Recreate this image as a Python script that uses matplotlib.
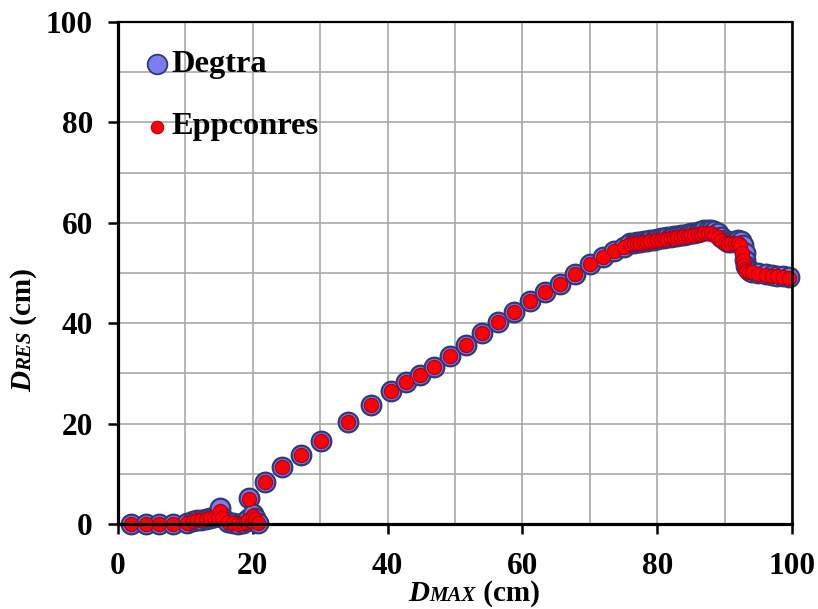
import matplotlib
matplotlib.use("Agg")
import matplotlib.pyplot as plt
from matplotlib.ticker import MultipleLocator

# ---------------- data ----------------
degtra_x = [2.0, 4.1, 6.1, 8.2, 10.2, 11.1, 11.7, 12.3, 13.0, 13.7, 14.3, 14.8, 15.2, 15.5,
            16.3, 17.0, 17.8, 18.5, 19.0, 19.3, 19.5, 19.9, 20.1, 20.4, 20.8, 21.8, 24.3,
            27.1, 30.1, 34.1, 37.5, 40.5, 42.7, 44.8, 46.9, 49.3, 51.6, 54.0, 56.4, 58.8,
            61.1, 63.4, 65.6, 67.8, 70.0, 72.0, 73.6, 75.0,
            76.0, 76.5, 77.0, 77.5, 78.0, 78.5, 79.0, 79.5, 80.0, 80.5, 81.0, 81.5, 82.0,
            82.5, 83.0, 83.5, 84.0, 84.5, 85.0, 85.5, 86.0, 86.5, 87.0, 87.5, 88.0, 88.5,
            89.0, 89.5, 90.0, 90.5, 91.0, 91.5, 92.0, 92.5, 92.8, 93.0, 93.1, 93.2, 93.4,
            93.7, 94.1, 95.0, 96.2, 97.0, 97.8, 98.6, 99.5]
degtra_y = [0.0, 0.0, 0.0, 0.0, 0.2, 0.5, 0.7, 0.8, 1.0, 1.2, 1.4, 1.5, 3.1, 1.4,
            0.3, 0.2, 0.0, 0.2, 0.5, 1.0, 5.2, 0.8, 2.0, 1.2, 0.1, 8.4, 11.3,
            13.8, 16.5, 20.3, 23.7, 26.5, 28.3, 29.7, 31.3, 33.5, 35.7, 38.0, 40.2, 42.2,
            44.4, 46.2, 47.8, 49.8, 51.8, 53.2, 54.4, 55.2,
            55.9, 56.0, 56.1, 56.1, 56.3, 56.4, 56.5, 56.6, 56.8, 56.9, 57.0, 57.1, 57.2,
            57.3, 57.4, 57.5, 57.6, 57.7, 57.9, 58.0, 58.1, 58.3, 58.5, 58.6, 58.6, 58.4,
            58.0, 57.2, 56.5, 56.1, 56.2, 56.4, 56.5, 56.4, 55.5, 54.0, 52.5, 51.3, 50.7,
            50.4, 50.2, 50.0, 49.8, 49.6, 49.5, 49.4, 49.2]

epp_x = [2.0, 4.1, 6.1, 8.2, 10.2, 11.1, 11.7, 12.3, 13.0, 13.7, 14.3, 14.8, 15.2, 15.5,
         16.3, 17.0, 17.8, 18.5, 19.0, 19.3, 19.5, 19.9, 20.1, 20.4, 20.8, 21.8, 24.3,
         27.1, 30.1, 34.1, 37.5, 40.5, 42.7, 44.8, 46.9, 49.3, 51.6, 54.0, 56.4, 58.8,
         61.1, 63.4, 65.6, 67.8, 70.0, 72.0, 73.6, 75.0,
         76.0, 76.5, 77.0, 77.5, 78.0, 78.5, 79.0, 79.5, 80.0, 80.5, 81.0, 81.5, 82.0,
         82.5, 83.0, 83.5, 84.0, 84.5, 85.0, 85.5, 86.0, 86.5, 87.0, 87.5, 88.0, 88.5,
         89.0, 89.5, 90.0, 90.5, 91.0, 91.5, 92.0, 92.3, 92.6, 92.8, 92.9, 93.0, 93.2,
         93.6, 94.1, 95.0, 96.2, 97.0, 97.8, 98.6, 99.5]
epp_y = [0.0, 0.0, 0.0, 0.0, 0.2, 0.5, 0.7, 0.8, 1.0, 1.2, 1.4, 1.3, 2.6, 1.2,
         0.3, 0.2, 0.0, 0.2, 0.4, 0.8, 5.0, 0.6, 1.6, 0.9, 0.1, 8.4, 11.3,
         13.8, 16.5, 20.3, 23.7, 26.5, 28.3, 29.7, 31.3, 33.5, 35.7, 38.0, 40.2, 42.2,
         44.4, 46.2, 47.8, 49.8, 51.8, 53.2, 54.4, 55.2,
         55.8, 55.9, 56.0, 56.0, 56.1, 56.2, 56.3, 56.4, 56.5, 56.6, 56.7, 56.8, 56.9,
         57.0, 57.1, 57.2, 57.3, 57.4, 57.5, 57.6, 57.7, 57.8, 57.9, 58.0, 57.9, 57.6,
         57.2, 56.6, 56.0, 55.8, 55.9, 56.0, 56.0, 55.5, 54.0, 52.5, 51.5, 50.8, 50.4,
         50.2, 50.1, 49.9, 49.7, 49.5, 49.4, 49.3, 49.1]

xticks = [0, 20, 40, 60, 80, 100]
yticks = [0, 20, 40, 60, 80, 100]
legend_labels = ["Degtra", "Eppconres"]

# ---------------- figure ----------------
W, H, DPI = 818, 609, 100
fig = plt.figure(figsize=(W / DPI, H / DPI), dpi=DPI)
ax = fig.add_axes([118 / W, 1 - 524 / H, 674 / W, 502 / H])

FONT = "Liberation Serif"
blue_face, blue_edge = "#7B7EF2", "#2B3C78"
red_face, red_edge = "#FF0000", "#B00020"

ax.scatter(degtra_x, degtra_y, s=200, c=blue_face, edgecolors=blue_edge,
           linewidths=1.6, zorder=3, clip_on=False)
ax.scatter(epp_x, epp_y, s=105, c=red_face, edgecolors=red_edge,
           linewidths=0.9, zorder=4, clip_on=False)

ax.set_xlim(0, 100)
ax.set_ylim(0, 100)
ax.set_xticks(xticks)
ax.set_yticks(yticks)
ax.xaxis.set_minor_locator(MultipleLocator(10))
ax.yaxis.set_minor_locator(MultipleLocator(10))
ax.grid(True, which="both", color="#A8A8A8", linewidth=1.2, zorder=0)
ax.set_axisbelow(True)
ax.tick_params(which="major", direction="out", length=7, width=1.8,
               labelsize=22.5, color="black")
ax.tick_params(which="minor", length=0)
ax.tick_params(axis="y", pad=11)
ax.tick_params(axis="x", pad=13)
for lab in ax.get_xticklabels() + ax.get_yticklabels():
    lab.set_fontfamily(FONT)
    lab.set_fontweight("bold")

ax.spines["left"].set_linewidth(2.3)
ax.spines["bottom"].set_linewidth(2.3)
ax.spines["top"].set_linewidth(1.6)
ax.spines["right"].set_linewidth(1.9)
for sp in ax.spines.values():
    sp.set_color("black")
    sp.set_zorder(5)

# legend (manual, no frame)
ax.scatter([0.058], [0.916], s=200, c=blue_face, edgecolors=blue_edge, linewidths=1.3,
           transform=ax.transAxes, zorder=6, clip_on=False)
ax.scatter([0.058], [0.791], s=80, c=red_face, edgecolors=red_edge, linewidths=0.8,
           transform=ax.transAxes, zorder=6, clip_on=False)
ax.text(0.079, 0.916, legend_labels[0], transform=ax.transAxes, fontsize=23.3,
        fontfamily=FONT, fontweight="bold", va="center", ha="left", zorder=6)
ax.text(0.079, 0.791, legend_labels[1], transform=ax.transAxes, fontsize=23.3,
        fontfamily=FONT, fontweight="bold", va="center", ha="left", zorder=6)

# ---------------- axis labels with small-caps style ----------------
renderer = fig.canvas.get_renderer()
big, small = 21, 15


def piece_widths(pieces):
    ws = []
    for txt, size, style in pieces:
        t = fig.text(0, 0, txt, fontsize=size, fontfamily=FONT, fontweight="bold",
                     fontstyle=style)
        ws.append(t.get_window_extent(renderer).width)
        t.remove()
    return ws


xpieces = [("D", big, "italic"), ("MAX", small, "italic"), (" (cm)", big, "normal")]
ws = piece_widths(xpieces)
cx, base_y = 474, 601
x0 = cx - sum(ws) / 2
for (txt, size, style), w in zip(xpieces, ws):
    fig.text(x0 / W, 1 - base_y / H, txt, fontsize=size, fontfamily=FONT,
             fontweight="bold", fontstyle=style, ha="left", va="baseline")
    x0 += w

ypieces = [("D", big, "italic"), ("RES", small, "italic"), (" (cm)", big, "normal")]
ws = piece_widths(ypieces)
cy, base_x = 330, 31
y0 = cy + sum(ws) / 2
for (txt, size, style), w in zip(ypieces, ws):
    fig.text(base_x / W, 1 - y0 / H, txt, fontsize=size, fontfamily=FONT,
             fontweight="bold", fontstyle=style, ha="left", va="baseline",
             rotation=90, rotation_mode="anchor")
    y0 -= w

fig.savefig("out.png", dpi=DPI)
